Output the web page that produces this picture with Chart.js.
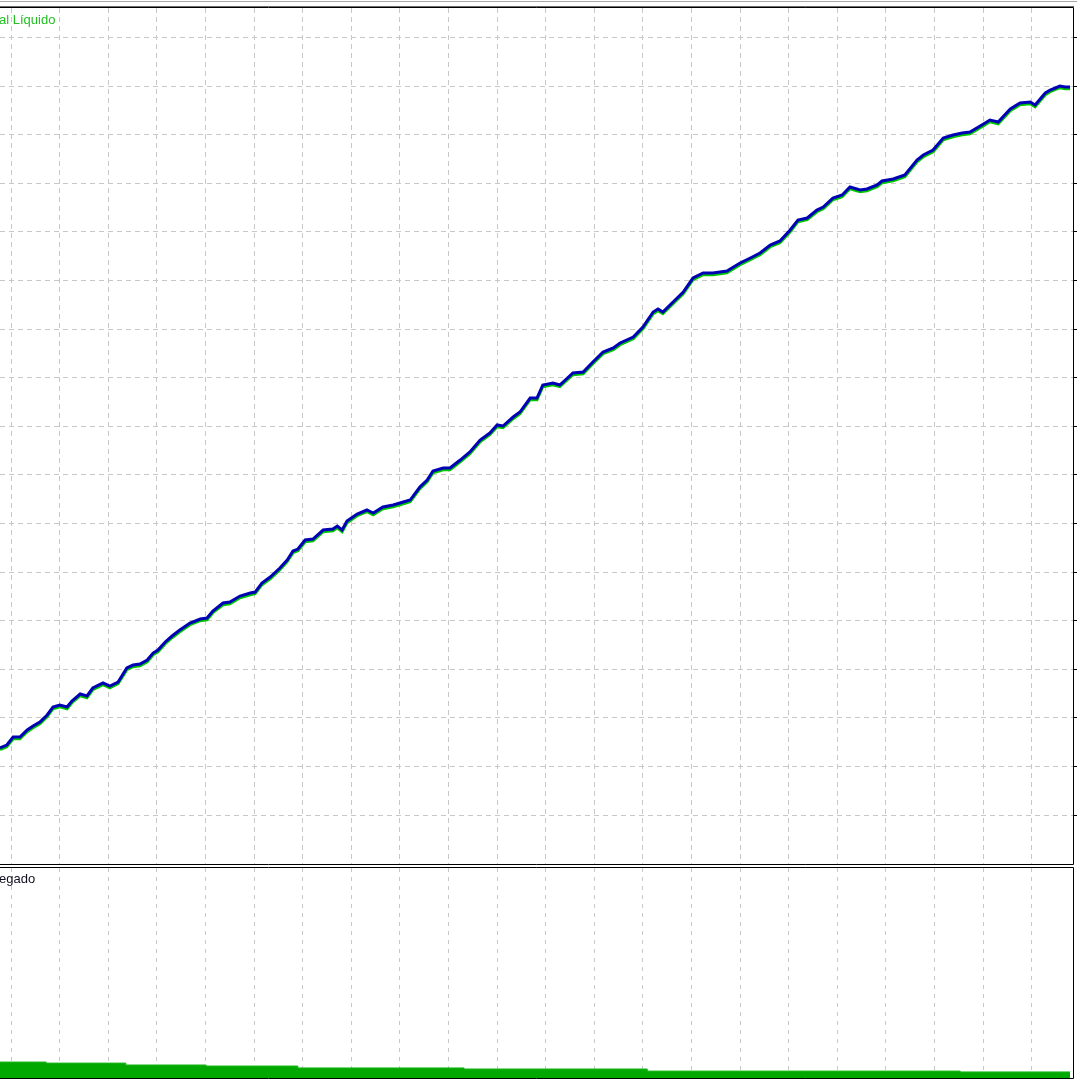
<!DOCTYPE html>
<html>
<head>
<meta charset="utf-8">
<script src="https://cdn.jsdelivr.net/npm/chart.js@4.4.1/dist/chart.umd.min.js"></script>
<style>
  html, body { margin: 0; padding: 0; background: #fff; }
  body { width: 1080px; height: 1080px; position: relative; overflow: hidden; }
  canvas { position: absolute; left: 0; }
  #equityChart { top: 0; }
  #loadChart { top: 866px; }
</style>
</head>
<body>
<canvas id="equityChart" width="1080" height="866"></canvas>
<canvas id="loadChart" width="1080" height="214"></canvas>
<script>
// Strategy tester chart: balance / equity on top, deposit load below

// deal numbers along the x axis
const trades = [
  0, 14, 27, 41, 56, 68, 82, 97, 109, 123,
  138, 148, 165, 179, 191, 212, 226, 243, 261, 274,
  288, 303, 315, 325, 340, 354, 370, 391, 412, 426,
  438, 459, 473, 494, 515, 525, 539, 556, 576, 591,
  603, 613, 628, 644, 665, 685, 694, 704, 714, 735,
  755, 768, 788, 809, 823, 844, 864, 879, 891, 912,
  926, 947, 967, 988, 1008, 1023, 1035, 1056, 1070, 1091,
  1105, 1117, 1138, 1152, 1179, 1200, 1220, 1241, 1262, 1276,
  1303, 1323, 1344, 1354, 1364, 1385, 1406, 1426, 1447, 1467,
  1496, 1506, 1523, 1544, 1564, 1585, 1605, 1626, 1642, 1661,
  1681, 1694, 1714, 1733, 1749, 1770, 1784, 1805, 1815, 1838,
  1862, 1887, 1900, 1920, 1941, 1961, 1980, 1996, 2017, 2037,
  2054, 2079, 2099, 2120, 2130, 2151, 2161, 2181, 2192, 2202
];

const balance = [
  3379, 3440, 3605, 3605, 3749, 3831, 3914, 4058, 4222, 4263,
  4222, 4346, 4490, 4449, 4613, 4716, 4654, 4737, 5025, 5086,
  5107, 5189, 5333, 5395, 5560, 5683, 5807, 5951, 6033, 6053,
  6198, 6362, 6383, 6506, 6568, 6588, 6774, 6897, 7082, 7247,
  7432, 7473, 7658, 7679, 7864, 7885, 7946, 7864, 8049, 8193,
  8276, 8214, 8337, 8379, 8420, 8481, 8749, 8893, 9078, 9140,
  9140, 9304, 9469, 9716, 9860, 10025, 10004, 10189, 10292, 10580,
  10580, 10848, 10889, 10848, 11095, 11115, 11321, 11527, 11609, 11712,
  11835, 12041, 12350, 12411, 12350, 12555, 12761, 13049, 13152, 13152,
  13193, 13255, 13358, 13461, 13564, 13728, 13811, 14037, 14243, 14284,
  14448, 14510, 14695, 14757, 14922, 14860, 14881, 14963, 15045, 15086,
  15169, 15477, 15580, 15683, 15930, 15992, 16033, 16053, 16177, 16300,
  16259, 16527, 16650, 16671, 16609, 16856, 16918, 17000, 16979, 16979
];

const equity = [
  3344, 3405, 3570, 3570, 3714, 3796, 3879, 4023, 4187, 4228,
  4187, 4311, 4455, 4414, 4578, 4681, 4619, 4702, 4990, 5051,
  5072, 5154, 5298, 5360, 5525, 5648, 5772, 5916, 5998, 6018,
  6163, 6327, 6348, 6471, 6533, 6553, 6739, 6862, 7047, 7212,
  7397, 7438, 7623, 7644, 7829, 7850, 7911, 7829, 8014, 8158,
  8241, 8179, 8302, 8344, 8385, 8446, 8714, 8858, 9043, 9105,
  9105, 9269, 9434, 9681, 9825, 9990, 9969, 10154, 10257, 10545,
  10545, 10813, 10854, 10813, 11060, 11080, 11286, 11492, 11574, 11677,
  11800, 12006, 12315, 12376, 12315, 12520, 12726, 13014, 13117, 13117,
  13158, 13220, 13323, 13426, 13529, 13693, 13776, 14002, 14208, 14249,
  14413, 14475, 14660, 14722, 14887, 14825, 14846, 14928, 15010, 15051,
  15134, 15442, 15545, 15648, 15895, 15957, 15998, 16018, 16142, 16265,
  16224, 16492, 16615, 16636, 16574, 16821, 16883, 16965, 16944, 16944
];

// deposit load steps (% of deposit)
const loadTrades = [0, 95, 259, 424, 613, 955, 1332, 1976, 2202];
const loadValues = [7.6, 7.1, 6.2, 5.7, 4.8, 4.3, 3.3, 2.9, 2.9];

// grid positions
const xGrid = [23, 123, 223, 323, 423, 523, 623, 723, 823, 923, 1023,
  1123, 1223, 1323, 1423, 1523, 1623, 1723, 1823, 1923, 2023, 2123];
const yGrid = [2000, 3000, 4000, 5000, 6000, 7000, 8000, 9000, 10000,
  11000, 12000, 13000, 14000, 15000, 16000, 17000, 18000];

const topLabel = 'al Líquido';
const bottomLabel = 'egado';

const GRID_COLOR = '#c8c8c8';

function framePlugin(text, color, baseline, isTop) {
  return {
    id: 'frame',
    afterDraw(chart) {
      const { ctx, chartArea: a } = chart;
      ctx.save();
      if (isTop) {
        ctx.fillStyle = '#a8a8a8';
        ctx.fillRect(0, 1, a.right + 4, 1);
        ctx.fillStyle = '#6a6a6a';
        ctx.fillRect(0, a.top - 2, a.right + 1, 1);
      }
      ctx.strokeStyle = '#000';
      ctx.lineWidth = 1;
      ctx.beginPath();
      ctx.moveTo(0, a.top - 0.5);
      ctx.lineTo(a.right + 0.5, a.top - 0.5);
      ctx.lineTo(a.right + 0.5, a.bottom + 0.5);
      ctx.lineTo(0, a.bottom + 0.5);
      ctx.stroke();

      ctx.font = '13px "Liberation Sans", Arial, sans-serif';
      ctx.fillStyle = color;
      ctx.textBaseline = 'alphabetic';
      ctx.textAlign = 'left';
      ctx.fillText(text, -1, baseline);
      ctx.restore();
    }
  };
}

function gridTicks(values) {
  return (scale) => { scale.ticks = values.map(v => ({ value: v })); };
}

new Chart(document.getElementById('equityChart'), {
  type: 'line',
  data: {
    datasets: [
      {
        label: 'Saldo',
        data: trades.map((t, i) => ({ x: t, y: balance[i] })),
        borderColor: '#0000b4',
        borderWidth: 3,
        pointRadius: 0,
        tension: 0
      },
      {
        label: 'Capital Líquido',
        data: trades.map((t, i) => ({ x: t, y: equity[i] })),
        borderColor: '#00c800',
        borderWidth: 3,
        pointRadius: 0,
        tension: 0
      }
    ]
  },
  options: {
    responsive: false,
    animation: false,
    events: [],
    layout: { padding: { left: 0, top: 8, right: 3, bottom: 2 } },
    plugins: { legend: { display: false }, tooltip: { enabled: false } },
    scales: {
      x: {
        type: 'linear',
        min: 0,
        max: 2208,
        afterBuildTicks: gridTicks(xGrid),
        ticks: { display: false },
        grid: { color: GRID_COLOR, drawTicks: false },
        border: { display: false, dash: [5, 4] }
      },
      y: {
        position: 'right',
        min: 992,
        max: 18605,
        afterBuildTicks: gridTicks(yGrid),
        ticks: { display: false },
        grid: { color: GRID_COLOR, drawTicks: true, tickLength: 4, tickColor: '#000', tickBorderDash: [] },
        border: { display: false, dash: [5, 4] }
      }
    }
  },
  plugins: [framePlugin(topLabel, '#22c022', 24, true)]
});

new Chart(document.getElementById('loadChart'), {
  type: 'line',
  data: {
    datasets: [{
      label: 'Carga',
      data: loadTrades.map((t, i) => ({ x: t, y: loadValues[i] })),
      stepped: true,
      fill: 'origin',
      backgroundColor: '#00a800',
      borderColor: '#1fb81f',
      borderWidth: 1,
      pointRadius: 0
    }]
  },
  options: {
    responsive: false,
    animation: false,
    events: [],
    layout: { padding: { left: 0, top: 2, right: 7, bottom: 2 } },
    plugins: { legend: { display: false }, tooltip: { enabled: false } },
    scales: {
      x: {
        type: 'linear',
        min: 0,
        max: 2208,
        afterBuildTicks: gridTicks(xGrid),
        ticks: { display: false },
        grid: { color: GRID_COLOR, drawTicks: false },
        border: { display: false, dash: [4, 5] }
      },
      y: { display: false, min: 0, max: 100 }
    }
  },
  plugins: [framePlugin(bottomLabel, '#101020', 17, false)]
});
</script>
</body>
</html>
